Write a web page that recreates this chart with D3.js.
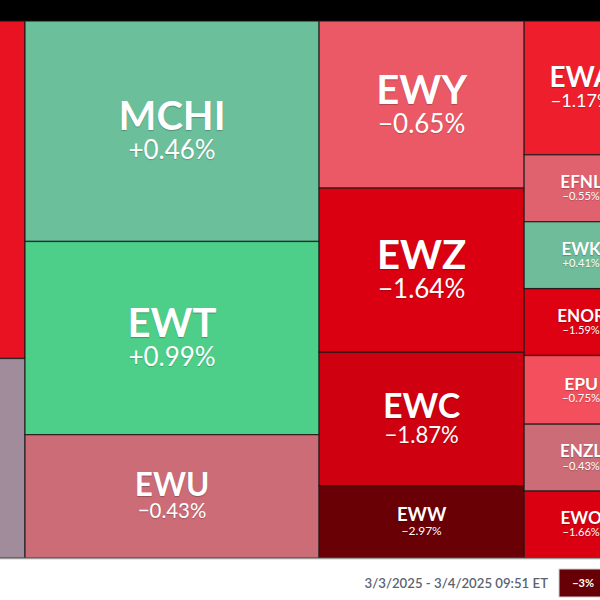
<!DOCTYPE html>
<html>
<head>
<meta charset="utf-8">
<script src="https://cdn.jsdelivr.net/npm/d3@7"></script>
<style>
  html, body { margin: 0; padding: 0; background: #fff; }
  svg { display: block; }
  .tk { font-family: Lato, "Open Sans", sans-serif; font-weight: 700; fill: #fff; text-shadow: 0 1px 1px rgba(0,0,0,0.25); }
  .pc { font-family: Lato, "Open Sans", sans-serif; font-weight: 400; fill: #fff; text-shadow: 0 1px 1px rgba(0,0,0,0.2); }
</style>
</head>
<body>
<svg id="chart" width="600" height="600"></svg>
<script>
// ---- data ----
const tickers = ["EWJ","INDA","MCHI","EWT","EWU","EWY","EWZ","EWC","EWW","EWA","EFNL","EWK","ENOR","EPU","ENZL","EWO"];
const groups  = [0,0,1,1,1,2,2,2,2,3,3,3,3,3,3,3];
const weights = [384,227,647,567,362,342,336,273,148,152,76,76,76,78,76,76];
const changes = [-1.32,-0.15,0.46,0.99,-0.43,-0.65,-1.64,-1.87,-2.97,-1.17,-0.55,0.41,-1.59,-0.75,-0.43,-1.66];
const legendValues = [-3,-2,-1,0,1,2,3];
const dateLabel = "3/3/2025 - 3/4/2025 09:51 ET";

// ---- scales ----
const color = d3.scaleLinear()
  .domain([-3, -2, -1.6, -1.2, -0.75, -0.6, -0.43, -0.15, 0, 0.45, 1, 3])
  .range(["#660006","#c8000f","#dd0011","#ee1a2a","#f44f5c","#e85e6b","#cc6c77","#a08c9a","#929896","#6cbf9b","#4ccf8a","#1fb866"])
  .clamp(true);

const fmt = v => (v > 0 ? "+" : "\u2212") + Math.abs(v).toFixed(2) + "%";

const svg = d3.select("#chart");

// header bar
svg.append("rect").attr("x", 0).attr("y", 0).attr("width", 600).attr("height", 21).attr("fill", "#000");

// ---- hierarchy ----
const colIds = Array.from(new Set(groups));
const rootData = {
  name: "root",
  children: colIds.map(g => ({
    name: "col" + g,
    children: tickers.map((t, i) => ({ name: t, value: weights[i], change: changes[i], g: groups[i] })).filter(d => d.g === g)
  }))
};
const root = d3.hierarchy(rootData).sum(d => d.value || 0);

const mapW = 727, mapH = 537, offX = -89, offY = 21;
d3.treemap().tile(d3.treemapSliceDice).size([mapW, mapH]).round(false)(root);

const g = svg.append("g").attr("transform", `translate(${offX},${offY})`);

const leaves = root.leaves();
const cell = g.selectAll("g.cell").data(leaves).join("g").attr("class", "cell");

cell.append("rect")
  .attr("x", d => d.x0).attr("y", d => d.y0)
  .attr("width", d => d.x1 - d.x0).attr("height", d => d.y1 - d.y0)
  .attr("fill", d => color(d.data.change))
  .attr("stroke", "rgba(20,20,20,0.75)")
  .attr("stroke-width", 1.3);

const labeled = cell.filter(d => offX + (d.x0 + d.x1) / 2 > 0);
labeled.each(function(d) {
  const w = d.x1 - d.x0, h = d.y1 - d.y0;
  const fs = Math.min(40, 0.255 * h, 0.245 * w);
  const ps = fs * 0.65;
  const cx = (d.x0 + d.x1) / 2, cy = (d.y0 + d.y1) / 2;
  const sel = d3.select(this);
  sel.append("text").attr("class", "tk")
    .attr("x", cx).attr("y", cy - 0.02 * fs).attr("text-anchor", "middle")
    .style("font-size", fs + "px").text(d.data.name);
  sel.append("text").attr("class", "pc")
    .attr("x", cx).attr("y", cy + 0.7 * fs).attr("text-anchor", "middle")
    .style("font-size", ps + "px").text(fmt(d.data.change));
});

// bottom edge line
svg.append("line").attr("x1", 0).attr("x2", 600).attr("y1", offY + mapH + 0.5).attr("y2", offY + mapH + 0.5)
  .attr("stroke", "#9a9a9a").attr("stroke-width", 1.5);

// date label
svg.append("text").attr("x", 548).attr("y", 588).attr("text-anchor", "end")
  .style("font-family", "Lato, sans-serif").style("font-size", "13.2px").style("font-weight", 600)
  .attr("fill", "#5b6370").text(dateLabel);

// legend
const lx = d3.scaleBand().domain(legendValues).range([559, 559 + 50 * legendValues.length]).paddingInner(0.04);
const lg = svg.append("g").selectAll("g").data(legendValues).join("g");
lg.append("rect").attr("x", d => lx(d)).attr("y", 569).attr("width", lx.bandwidth()).attr("height", 28)
  .attr("fill", d => color(d)).attr("stroke", "#d0d0d0").attr("stroke-width", 1);
lg.append("text").attr("x", d => lx(d) + lx.bandwidth() / 2).attr("y", 587).attr("text-anchor", "middle")
  .style("font-family", "Lato, sans-serif").style("font-size", "11px").style("font-weight", 700)
  .attr("fill", "#fff").text(d => (d > 0 ? "+" : d < 0 ? "\u2212" : "") + Math.abs(d) + "%");
</script>
</body>
</html>
